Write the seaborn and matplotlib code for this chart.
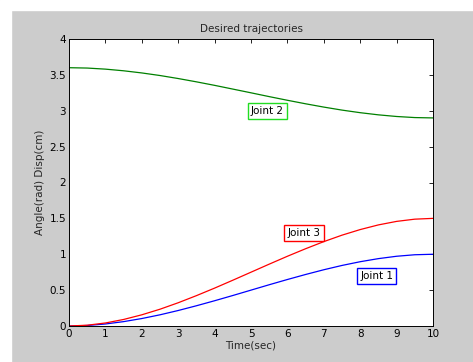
import numpy as np
import pandas as pd
import matplotlib
matplotlib.use("Agg")
import matplotlib.pyplot as plt
import seaborn as sns

# values, every 0.5 s
time_sec = [0, 0.5, 1, 1.5, 2, 2.5, 3, 3.5, 4, 4.5, 5, 5.5, 6, 6.5, 7, 7.5, 8, 8.5, 9, 9.5, 10]
joint1 = [0, 0.007, 0.028, 0.061, 0.104, 0.156, 0.216, 0.282, 0.352, 0.425, 0.5,
          0.575, 0.648, 0.718, 0.784, 0.844, 0.896, 0.939, 0.972, 0.993, 1.0]
joint2 = [3.6, 3.595, 3.58, 3.557, 3.527, 3.491, 3.449, 3.403, 3.354, 3.302, 3.25,
          3.197, 3.146, 3.097, 3.051, 3.009, 2.973, 2.943, 2.92, 2.905, 2.9]
joint3 = [0, 0.011, 0.042, 0.091, 0.156, 0.234, 0.324, 0.423, 0.528, 0.638, 0.75,
          0.862, 0.972, 1.077, 1.176, 1.266, 1.344, 1.409, 1.458, 1.489, 1.5]

series_names = ["Joint 1", "Joint 2", "Joint 3"]
line_colors = {"Joint 1": "#0000ff", "Joint 2": "#008000", "Joint 3": "#ff0000"}
box_colors = {"Joint 1": "#0000ff", "Joint 2": "#22dd22", "Joint 3": "#ff0000"}
label_pos = {"Joint 1": (8, 0.7), "Joint 2": (5, 3.0), "Joint 3": (6, 1.3)}

df = pd.DataFrame({
    "t": time_sec * 3,
    "angle": joint1 + joint2 + joint3,
    "joint": [n for n in series_names for _ in time_sec],
})

sns.set_style("white")
plt.rcParams["font.family"] = ["DejaVu Sans"]

fig = plt.figure(figsize=(4.73, 3.62), dpi=100, facecolor="#cccccc")
# white strip at top and left edge (window chrome in the screenshot)
fig.patches.append(plt.Rectangle((0, 1 - 10 / 362), 1, 10 / 362, transform=fig.transFigure,
                                 color="white", zorder=-1))
fig.patches.append(plt.Rectangle((0, 0), 11 / 473, 1, transform=fig.transFigure,
                                 color="white", zorder=-1))
ax = fig.add_axes([69 / 473, 36 / 362, 364 / 473, 287 / 362])
ax.set_facecolor("white")

sns.lineplot(data=df, x="t", y="angle", hue="joint", palette=line_colors,
             linewidth=0.9, legend=False, ax=ax)

for name in series_names:
    x, y = label_pos[name]
    ax.text(x, y, name, fontsize=7.5, ha="left", va="center", color="black",
            bbox=dict(boxstyle="square,pad=0.3", fc="white", ec=box_colors[name], lw=1))

ax.set_xlim(0, 10)
ax.set_ylim(0, 4)
ax.set_xticks(range(0, 11))
ax.set_yticks([0, 0.5, 1, 1.5, 2, 2.5, 3, 3.5, 4])
ax.set_yticklabels(["0", "0.5", "1", "1.5", "2", "2.5", "3", "3.5", "4"])
ax.tick_params(direction="in", length=3, width=0.6, labelsize=7.5, top=True, right=True,
               pad=2, colors="black")
for s in ax.spines.values():
    s.set_color("black")
    s.set_linewidth(0.7)
ax.set_xlabel("Time(sec)", fontsize=7.5, labelpad=1)
ax.set_ylabel("Angle(rad) Disp(cm)", fontsize=7.5, labelpad=3)
ax.set_title("Desired trajectories", fontsize=7.5, pad=5)

fig.savefig("out.png", dpi=100, facecolor=fig.get_facecolor())
